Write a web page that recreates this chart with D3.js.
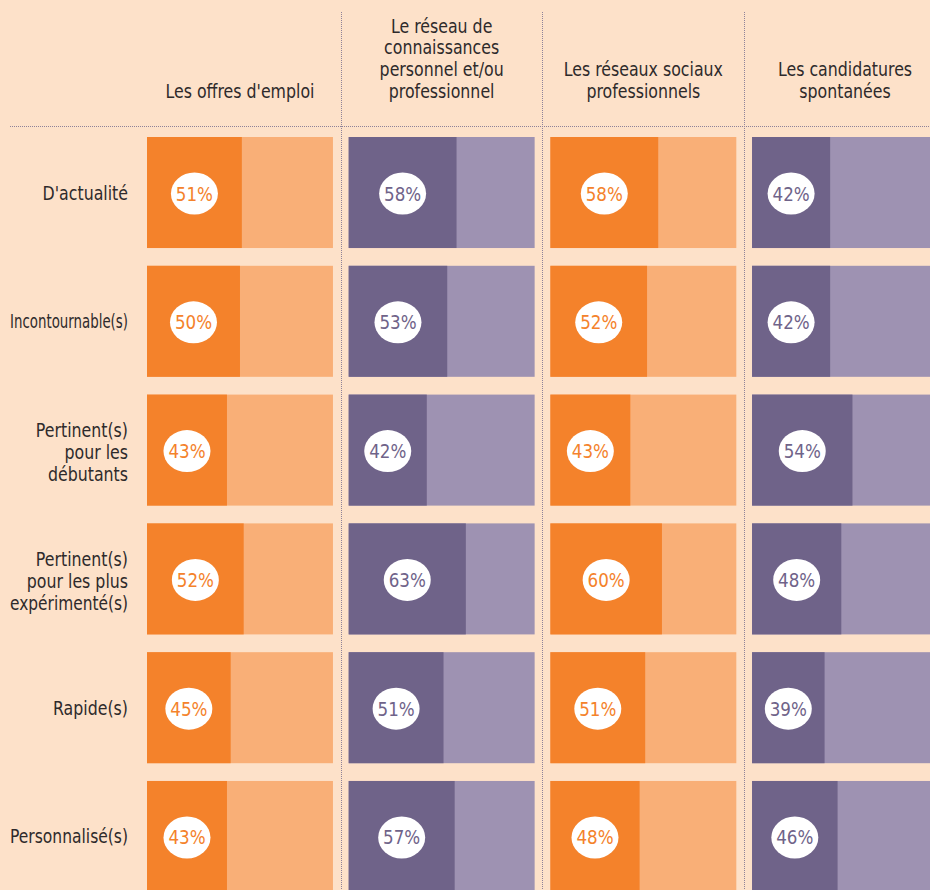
<!DOCTYPE html>
<html><head><meta charset="utf-8">
<script src="https://cdn.jsdelivr.net/npm/d3@7/dist/d3.min.js"></script>
<style>
html,body{margin:0;padding:0;background:#fde1c9;overflow:hidden;}
svg{display:block;}
text{font-family:"DejaVu Sans Condensed","DejaVu Sans","Open Sans",sans-serif;}
</style></head>
<body>
<svg id="chart" width="930" height="890"></svg>
<script>
const categories = ["D'actualité", "Incontournable(s)", "Pertinent(s)\npour les\ndébutants", "Pertinent(s)\npour les plus\nexpérimenté(s)", "Rapide(s)", "Personnalisé(s)"];
const columns = ["Les offres d'emploi", "Le réseau de\nconnaissances\npersonnel et/ou\nprofessionnel", "Les réseaux sociaux\nprofessionnels", "Les candidatures\nspontanées"];
const offres = [51, 50, 43, 52, 45, 43];
const reseauConnaissances = [58, 53, 42, 63, 51, 57];
const reseauxSociaux = [58, 52, 43, 60, 51, 48];
const candidatures = [42, 42, 54, 48, 39, 46];
const seriesValues = [offres, reseauConnaissances, reseauxSociaux, candidatures];
const palettes = [
  {dark:"#f4822b", light:"#f9af77"},
  {dark:"#6f6389", light:"#9e92b2"},
  {dark:"#f4822b", light:"#f9af77"},
  {dark:"#6f6389", light:"#9e92b2"}
];

const svg = d3.select("#chart");
const x = d3.scaleBand().domain(columns).range([147, 938]).paddingInner(0.078).paddingOuter(0);
const y = d3.scaleBand().domain(categories).range([137, 892]).paddingInner(0.138).paddingOuter(0);
const bw = x.bandwidth();
const pct = d3.scaleLinear().domain([0, 100]).range([0, bw]);
const SX = 0.9;
const labelMax = 118;

// separators
const sepColor = "#8e8299";
columns.slice(1).forEach(c => {
  const sx = Math.round(x(c) - x.step()*x.paddingInner()/2) + 0.5;
  svg.append("line").attr("x1", sx).attr("x2", sx).attr("y1", 12).attr("y2", 890)
    .attr("stroke", sepColor).attr("stroke-width", 1).attr("stroke-dasharray", "1,1");
});
svg.append("line").attr("x1", 10).attr("x2", 930).attr("y1", 126.5).attr("y2", 126.5)
  .attr("stroke", sepColor).attr("stroke-width", 1).attr("stroke-dasharray", "1,1");

// headers
const lh = 21.8;
columns.forEach(c => {
  const lines = c.split("\n");
  const t = svg.append("g").attr("transform", `translate(${x(c) + bw/2},0) scale(${SX},1)`)
    .append("text").attr("text-anchor", "middle").attr("font-size", 19.5).attr("fill", "#2e2a2b");
  lines.forEach((l, i) => {
    t.append("tspan").attr("x", 0).attr("y", 98 - (lines.length - 1 - i)*lh).text(l);
  });
});

// row labels
categories.forEach(cat => {
  const lines = cat.split("\n");
  const cy = y(cat) + y.bandwidth()/2;
  const g = svg.append("g").attr("transform", `translate(128,0) scale(${SX},1)`);
  lines.forEach((l, i) => {
    const t = g.append("text").attr("x", 0)
      .attr("y", cy + 7 + (i - (lines.length - 1)/2)*lh + (lines.length>1?2:0))
      .attr("text-anchor", "end").attr("font-size", 19.5).attr("fill", "#2e2a2b").text(l);
    const w = t.node().getComputedTextLength() * SX;
    if (w > labelMax) t.attr("textLength", labelMax / SX).attr("lengthAdjust", "spacingAndGlyphs");
  });
});

// bars
columns.forEach((c, ci) => {
  const g = svg.append("g");
  const vals = seriesValues[ci];
  const pal = palettes[ci];
  g.selectAll("rect.light").data(categories).join("rect")
    .attr("x", x(c)).attr("y", d => y(d)).attr("width", bw).attr("height", y.bandwidth())
    .attr("fill", pal.light);
  g.selectAll("rect.dark").data(categories).join("rect")
    .attr("x", x(c)).attr("y", d => y(d)).attr("width", (d, i) => pct(vals[i])).attr("height", y.bandwidth())
    .attr("fill", pal.dark);
  g.selectAll("ellipse").data(categories).join("ellipse")
    .attr("cx", (d, i) => x(c) + pct(vals[i])/2).attr("cy", d => y(d) + y.bandwidth()/2 + 1)
    .attr("rx", 23.5).attr("ry", 21).attr("fill", "#ffffff");
  g.selectAll("g.lbl").data(categories).join("g")
    .attr("transform", (d, i) => `translate(${x(c) + pct(vals[i])/2},${y(d) + y.bandwidth()/2 + 8}) scale(0.93,1)`)
    .append("text").attr("x", 0).attr("y", 0)
    .attr("text-anchor", "middle").attr("font-size", 20).attr("fill", pal.dark)
    .text((d, i) => vals[i] + "%");
});
</script>
</body></html>
